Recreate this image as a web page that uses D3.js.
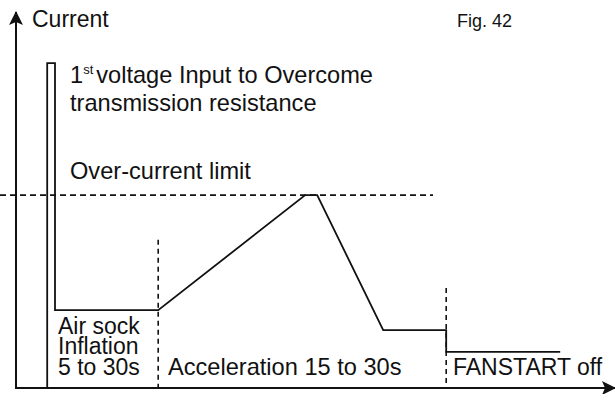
<!DOCTYPE html>
<html>
<head>
<meta charset="utf-8">
<script src="https://cdn.jsdelivr.net/npm/d3@7"></script>
<style>
  body { margin: 0; background: #fff; }
</style>
</head>
<body>
<div id="chart"></div>
<script>
// time (arbitrary units) and current (arbitrary units)
const times    = [5.2, 5.2, 6.5, 6.5, 23.7, 48.2, 50.2, 61.2, 71.7, 71.7, 90.7];
const currents = [0, 86.4, 86.4, 20.7, 20.7, 51.3, 51.3, 15.4, 15.4, 9.6, 9.6];

const overCurrent = 51.3;
const overCurrentEnd = 69.5;

// phase boundaries (dashed verticals)
const phaseTimes = [23.7, 71.7];
const phaseTops  = [39.4, 26.6];

const w = 615;
const h = 394;

const x = d3.scaleLinear().domain([0, 100]).range([16, 616]);
const y = d3.scaleLinear().domain([0, 100]).range([388, 12]);

const svg = d3.select("#chart")
  .append("svg")
  .attr("width", w)
  .attr("height", h)
  .style("font-family", "'Liberation Sans', Arial, Helvetica, sans-serif");

const defs = svg.append("defs");
defs.append("marker")
  .attr("id", "arrow")
  .attr("viewBox", "0 0 14 14")
  .attr("refX", 13)
  .attr("refY", 7)
  .attr("markerWidth", 14)
  .attr("markerHeight", 14)
  .attr("markerUnits", "userSpaceOnUse")
  .attr("orient", "auto")
  .append("path")
  .attr("d", "M0,0 L14,7 L0,14 L3,7 Z")
  .attr("fill", "#111");

// axes
svg.append("line")
  .attr("x1", x(0)).attr("y1", y(0))
  .attr("x2", x(0)).attr("y2", y(100))
  .attr("stroke", "#111").attr("stroke-width", 2)
  .attr("marker-end", "url(#arrow)");

svg.append("line")
  .attr("x1", x(0) - 1).attr("y1", y(0))
  .attr("x2", x(100) - 1).attr("y2", y(0))
  .attr("stroke", "#111").attr("stroke-width", 2)
  .attr("marker-end", "url(#arrow)");

// over-current limit
svg.append("line")
  .attr("x1", 0).attr("y1", y(overCurrent))
  .attr("x2", x(overCurrentEnd)).attr("y2", y(overCurrent))
  .attr("stroke", "#111").attr("stroke-width", 1.6)
  .attr("stroke-dasharray", "6,4");

// phase boundaries
svg.selectAll(".phase")
  .data(phaseTimes)
  .enter()
  .append("line")
  .attr("class", "phase")
  .attr("x1", d => x(d)).attr("x2", d => x(d))
  .attr("y1", (d, i) => y(phaseTops[i]))
  .attr("y2", y(0))
  .attr("stroke", "#111").attr("stroke-width", 1.6)
  .attr("stroke-dasharray", "5,4");

// current trace
const pts = times.map((t, i) => [t, currents[i]]);
svg.append("path")
  .datum(pts)
  .attr("d", d3.line().x(d => x(d[0])).y(d => y(d[1])))
  .attr("fill", "none")
  .attr("stroke", "#111")
  .attr("stroke-width", 1.8)
  .attr("stroke-linejoin", "miter");

// labels
const fs = 23.6;
const label = (tx, ty, size, str) =>
  svg.append("text").attr("x", tx).attr("y", ty)
     .attr("font-size", size).attr("fill", "#111").text(str);

label(32, 27, 23, "Current");
label(457, 27, 18, "Fig. 42");

const t1 = label(70, 83, fs, "1");
t1.append("tspan").attr("font-size", 13).attr("dy", -9).text("st");
t1.append("tspan").attr("dy", 9).attr("dx", 3).text("voltage Input to Overcome");
label(70, 111, fs, "transmission resistance");

label(70, 179, fs, "Over-current limit");

label(58, 334, 23, "Air sock");
label(58, 354, 23, "Inflation");
label(58, 375, 23, "5 to 30s");

label(168, 375, fs, "Acceleration 15 to 30s");
label(453, 375, 23, "FANSTART off");
</script>
</body>
</html>
